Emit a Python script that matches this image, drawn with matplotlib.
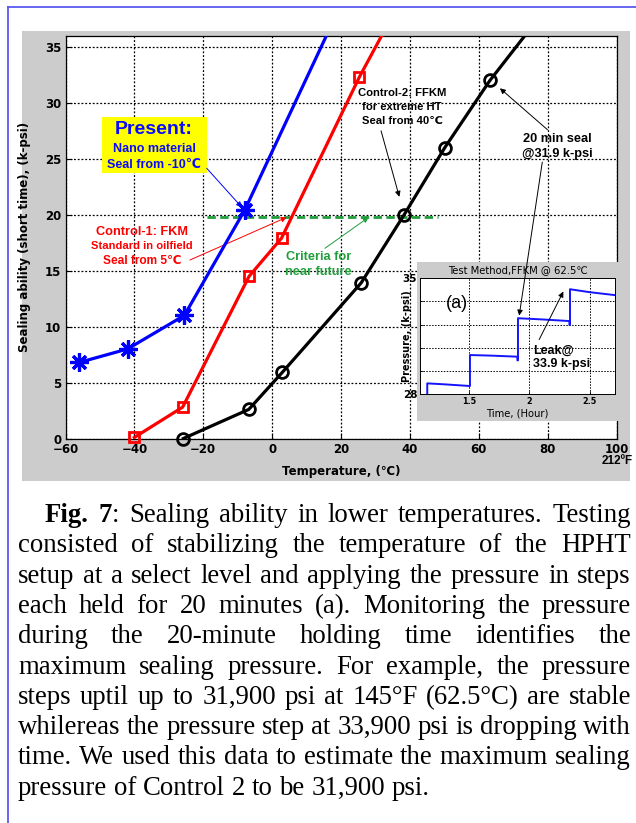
import matplotlib
matplotlib.use("Agg")
import matplotlib.pyplot as plt
from matplotlib.patches import Rectangle
from matplotlib.lines import Line2D
import numpy as np

# ---- data ----
present_t = [-56, -42, -25.5, -8, 20]
present_p = [6.8, 8.0, 11.0, 20.4, 38.8]
fkm_t = [-40, -26, -6.7, 2.7, 25.3, 33]
fkm_p = [0.1, 2.8, 14.5, 17.9, 32.3, 36.7]
ffkm_t = [-25.8, -6.8, 2.9, 25.8, 38.3, 50.1, 63.2, 76]
ffkm_p = [0.0, 2.6, 5.9, 13.9, 20.0, 26.0, 32.0, 37.05]
criteria_t = [-19, 48]
criteria_level = 19.8

x_ticks = [-60, -40, -20, 0, 20, 40, 60, 80, 100]
y_ticks = [0, 5, 10, 15, 20, 25, 30, 35]

# inset (a): pressure steps vs time
step_time = [1.155, 1.155, 1.30, 1.508, 1.508, 1.70, 1.90, 1.90, 1.905, 1.905,
             2.10, 2.33, 2.33, 2.335, 2.335, 2.50, 2.70]
step_pres = [27.5, 28.66, 28.6, 28.5, 30.37, 30.33, 30.27, 30.05, 30.05, 32.59,
             32.52, 32.42, 32.18, 32.18, 34.34, 34.16, 33.99]
inset_x_ticks = [1.5, 2, 2.5]
inset_y_ticks = [28, 29.4, 30.8, 32.2, 33.6, 35]
inset_y_labels = ["28", "", "", "", "", "35"]

caption = [
    "Fig. 7: Sealing ability in lower temperatures. Testing",
    "consisted of stabilizing the temperature of the HPHT",
    "setup at a select level and applying the pressure in steps",
    "each held for 20 minutes (a). Monitoring the pressure",
    "during the 20-minute holding time identifies the",
    "maximum sealing pressure. For example, the pressure",
    "steps uptil up to 31,900 psi at 145°F (62.5°C) are stable",
    "whilereas the pressure step at 33,900 psi is dropping with",
    "time. We used this data to estimate the maximum sealing",
    "pressure of Control 2 to be 31,900 psi.",
]

W, H = 636, 823
fig = plt.figure(figsize=(W / 100, H / 100), dpi=100)
fig.patch.set_facecolor("white")

ann_font = ["Liberation Sans", "DejaVu Sans"]
ax_font = "DejaVu Sans"

def fx(px):
    return px / W

def fy(py):
    return 1 - py / H

# grey figure panel and blue page border
fig.patches.append(Rectangle((fx(22), fy(481)), fx(630) - fx(22), fy(31) - fy(481),
                             transform=fig.transFigure, facecolor="#cccccc",
                             edgecolor="none", zorder=-5))
fig.lines.append(Line2D([fx(8), 1], [fy(7), fy(7)], transform=fig.transFigure,
                        color="#5a5af0", lw=1.3))
fig.lines.append(Line2D([fx(8), fx(8)], [0, fy(7)], transform=fig.transFigure,
                        color="#5a5af0", lw=1.3))

# ---- main axes ----
ax = fig.add_axes([fx(65.5), fy(438.5), fx(616.7) - fx(65.5), fy(35.7) - fy(438.5)])
ax.set_facecolor("white")
ax.set_xlim(-60, 100)
ax.set_ylim(0, 36)
ax.set_xticks(x_ticks)
ax.set_yticks(y_ticks)
ax.grid(True, linestyle=(0, (1.5, 1.5)), color="black", lw=0.9)
ax.set_axisbelow(True)
ax.tick_params(direction="in", length=4, width=0.8, pad=3)
for lab in ax.get_xticklabels() + ax.get_yticklabels():
    lab.set_fontfamily(ax_font)
    lab.set_fontweight("bold")
    lab.set_fontsize(8.5)
for s in ax.spines.values():
    s.set_linewidth(0.9)
ax.set_xlabel("Temperature, (℃)", family=ax_font, weight="bold", fontsize=8.5, labelpad=7)
ax.set_ylabel("Sealing ability (short time), (k-psi)", family=ax_font, weight="bold",
              fontsize=8.5, labelpad=10)
ax.text(100, -2.05, "212ºF", ha="center", va="center", family=ann_font,
        weight="bold", fontsize=8.5, clip_on=False)

# curves
def curve(t, p, color, marker, ms, mew):
    t = np.array(t)
    p = np.array(p)
    ax.plot(t, p, color=color, lw=2.3, zorder=4)
    keep = p <= 36
    ax.plot(t[keep], p[keep], ls="none", marker=marker, ms=ms, mew=mew,
            mec=color, mfc="none", clip_on=False, zorder=5)

curve(present_t, present_p, "#0000ff", (8, 2, 0), 13, 2.3)
curve(fkm_t, fkm_p, "#ff0000", "s", 7, 2.0)
curve(ffkm_t, ffkm_p, "black", "o", 8.5, 2.0)

ax.plot(criteria_t, [criteria_level, criteria_level], color="#1f9e3a", lw=2.0,
        ls=(0, (3, 1.6)), zorder=3)

# "Present" label
ax.add_patch(Rectangle((-49.5, 23.7), 30.5, 5.0, facecolor="#ffff00", edgecolor="none", zorder=6))
ax.text(-34.3, 27.6, "Present:", ha="center", va="center", color="#0a0aff",
        family=ann_font, weight="bold", fontsize=14, zorder=7)
ax.text(-34.3, 25.85, "Nano material", ha="center", va="center", color="#0a0aff",
        family=ann_font, weight="bold", fontsize=9, zorder=7)
ax.text(-34.3, 24.45, "Seal from -10℃", ha="center", va="center", color="#0a0aff",
        family=ann_font, weight="bold", fontsize=9, zorder=7)
ax.annotate("", xy=(-8.8, 20.66), xytext=(-19.0, 24.15),
            arrowprops=dict(arrowstyle="-|>", color="#0000ff", lw=0.7,
                            mutation_scale=8, shrinkA=0, shrinkB=0), zorder=7)

# Control-1
ax.text(-37.8, 18.5, "Control-1: FKM", ha="center", va="center", color="red",
        family=ann_font, weight="bold", fontsize=9.2)
ax.text(-37.8, 17.2, "Standard in oilfield", ha="center", va="center", color="red",
        family=ann_font, weight="bold", fontsize=8.1)
ax.text(-37.8, 15.9, "Seal from 5℃", ha="center", va="center", color="red",
        family=ann_font, weight="bold", fontsize=8.6)
ax.annotate("", xy=(4.2, 19.77), xytext=(-23.9, 15.95),
            arrowprops=dict(arrowstyle="-|>", color="red", lw=0.7,
                            mutation_scale=8, shrinkA=0, shrinkB=0))

# criteria
ax.text(13.4, 16.25, "Criteria for", ha="center", va="center", color="#1f9e3a",
        family=ann_font, weight="bold", fontsize=9.2)
ax.text(13.4, 14.85, "near future", ha="center", va="center", color="#1f9e3a",
        family=ann_font, weight="bold", fontsize=9.2)
ax.annotate("", xy=(28.0, 19.77), xytext=(15.3, 17.0),
            arrowprops=dict(arrowstyle="-|>", color="#1f9e3a", lw=0.7,
                            mutation_scale=8, shrinkA=0, shrinkB=0))

# Control-2
ax.text(37.7, 30.85, "Control-2: FFKM", ha="center", va="center", color="black",
        family=ann_font, weight="bold", fontsize=8.1)
ax.text(37.7, 29.6, "for extreme HT", ha="center", va="center", color="black",
        family=ann_font, weight="bold", fontsize=8.1)
ax.text(37.7, 28.4, "Seal from 40℃", ha="center", va="center", color="black",
        family=ann_font, weight="bold", fontsize=8.1)
ax.annotate("", xy=(36.9, 21.6), xytext=(31.6, 27.5),
            arrowprops=dict(arrowstyle="-|>", color="black", lw=0.7,
                            mutation_scale=8, shrinkA=0, shrinkB=0))

# 20 min seal
ax.text(82.9, 26.8, "20 min seal", ha="center", va="center", color="black",
        family=ann_font, weight="bold", fontsize=9.2)
ax.text(82.9, 25.4, "@31.9 k-psi", ha="center", va="center", color="black",
        family=ann_font, weight="bold", fontsize=9.2)
ax.annotate("", xy=(66.1, 31.3), xytext=(79.9, 27.6),
            arrowprops=dict(arrowstyle="-|>", color="black", lw=0.7,
                            mutation_scale=8, shrinkA=0, shrinkB=0))

# ---- inset (a) ----
fig.patches.append(Rectangle((fx(417), fy(421)), fx(630) - fx(417), fy(262) - fy(421),
                             transform=fig.transFigure, facecolor="#cccccc",
                             edgecolor="none", zorder=2))
axi = fig.add_axes([fx(420), fy(394.3), fx(615) - fx(420), fy(278.3) - fy(394.3)])
axi.set_zorder(3)
axi.set_facecolor("white")
axi.plot(step_time, step_pres, color="#1414ff", lw=1.4)
axi.set_xlim(1.095, 2.707)
axi.set_ylim(28, 35)
axi.set_xticks(inset_x_ticks)
axi.set_xticklabels(["1.5", "2", "2.5"])
axi.set_yticks(inset_y_ticks)
axi.set_yticklabels(inset_y_labels)
axi.grid(True, linestyle=(0, (1.5, 1.5)), color="black", lw=0.7)
axi.tick_params(direction="in", length=2.5, width=0.6, pad=2)
for lab in axi.get_xticklabels():
    lab.set_fontfamily(ax_font)
    lab.set_fontweight("bold")
    lab.set_fontsize(5.8)
for lab in axi.get_yticklabels():
    lab.set_fontfamily(ax_font)
    lab.set_fontweight("bold")
    lab.set_fontsize(7.5)
for s in axi.spines.values():
    s.set_linewidth(0.7)
axi.set_title("Test Method,FFKM @ 62.5℃", family=ax_font, fontsize=7.2, pad=4)
axi.set_xlabel("Time, (Hour)", family=ax_font, fontsize=7.2, labelpad=2)
axi.set_ylabel("Pressure, (k-psi)", family=ax_font, weight="bold", fontsize=7.0)
axi.yaxis.set_label_coords(-0.04, 0.5)
axi.text(1.40, 33.5, "(a)", ha="center", va="center", family=ann_font, fontsize=13)
axi.text(2.03, 30.25, "Leak@\n33.9 k-psi", ha="left", va="center", family=ann_font,
         weight="bold", fontsize=9, linespacing=1.15)
axi.annotate("", xy=(2.28, 34.2), xytext=(2.08, 31.3),
             arrowprops=dict(arrowstyle="-|>", color="black", lw=0.7,
                             mutation_scale=8, shrinkA=0, shrinkB=0))
axi.annotate("", xy=(1.915, 32.75), xycoords="data", xytext=(78.4, 24.7),
             textcoords=ax.transData,
             arrowprops=dict(arrowstyle="-|>", color="black", lw=0.7,
                             mutation_scale=8, shrinkA=0, shrinkB=0),
             annotation_clip=False)

# ---- justified caption ----
renderer = fig.canvas.get_renderer()
cap_size = 19.3
left_px, right_px = 18, 631
base0, step = 522, 30.3

def text_width(s, weight):
    t = fig.text(0, 0, s, family="Liberation Serif", fontsize=cap_size, weight=weight)
    w = t.get_window_extent(renderer).width
    t.remove()
    return w

space_w = text_width("a b", "normal") - text_width("ab", "normal")

for i, line in enumerate(caption):
    words = line.split(" ")
    pieces = []
    for j, wd in enumerate(words):
        if i == 0 and j == 0:
            pieces.append([("Fig.", "bold")])
        elif i == 0 and j == 1:
            pieces.append([("7", "bold"), (":", "normal")])
        else:
            pieces.append([(wd, "normal")])
    widths = [sum(text_width(s, w) for s, w in p) for p in pieces]
    x0 = 45 if i == 0 else left_px
    if i < len(caption) - 1 and len(pieces) > 1:
        gap = (right_px - x0 - sum(widths)) / (len(pieces) - 1)
    else:
        gap = space_w
    y = fy(base0 + i * step)
    x = x0
    for p, wtot in zip(pieces, widths):
        xx = x
        for s, w in p:
            fig.text(fx(xx), y, s, family="Liberation Serif", fontsize=cap_size,
                     weight=w, va="baseline", ha="left")
            xx += text_width(s, w)
        x += wtot + gap

fig.savefig("out.png", dpi=100)
